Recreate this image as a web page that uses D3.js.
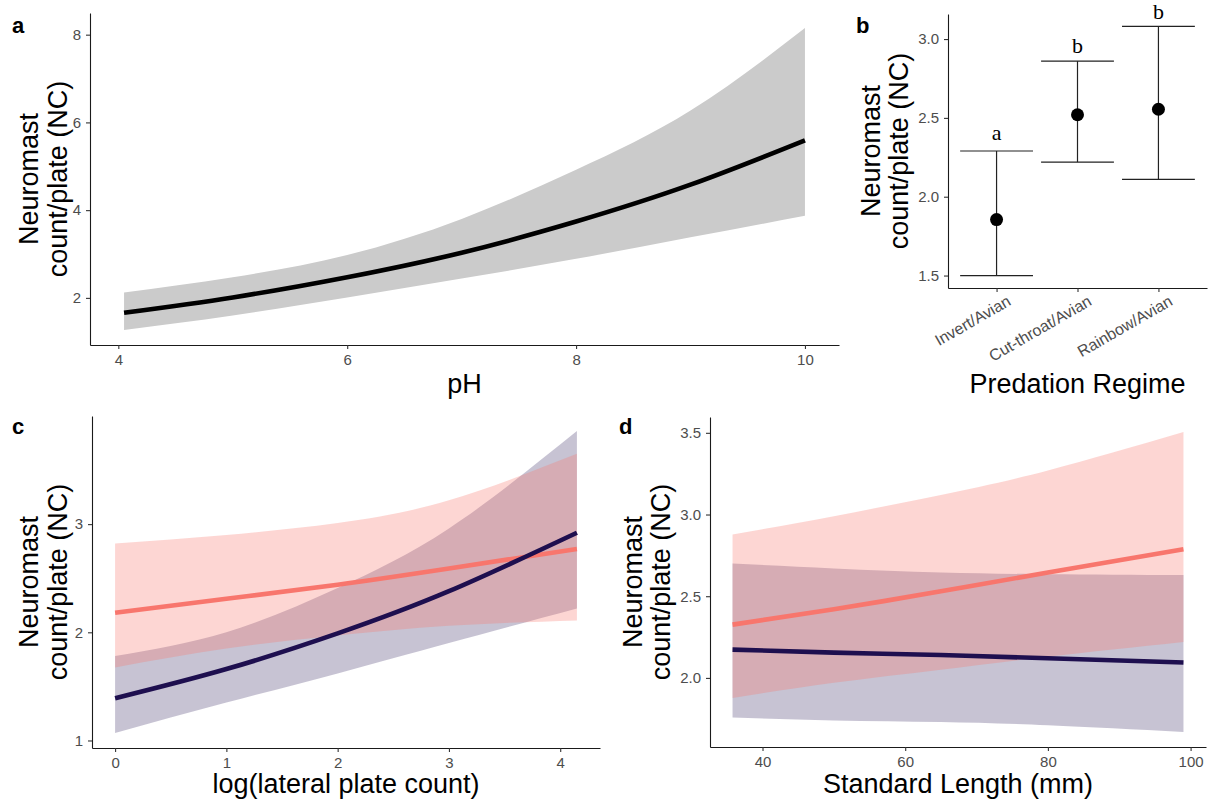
<!DOCTYPE html>
<html>
<head>
<meta charset="utf-8">
<script src="https://cdn.jsdelivr.net/npm/d3@7"></script>
<style>
  html, body { margin: 0; padding: 0; background: #fff; }
  svg { display: block; font-family: "Liberation Sans", Arial, sans-serif; }
</style>
</head>
<body>
<svg id="chart" width="1208" height="804"></svg>
<script>
// ---------------- DATA ----------------
// Panel a: NC vs pH
const aX      = [4.05, 5, 6, 7, 8, 9, 10];
const aFit    = [1.66, 2.01, 2.47, 3.03, 3.74, 4.58, 5.59];
const aUpper  = [2.12, 2.47, 2.98, 3.80, 4.92, 6.27, 8.15];
const aLower  = [1.27, 1.60, 2.01, 2.44, 2.89, 3.38, 3.87];
const aXTicks = [4, 6, 8, 10];
const aYTicks = [2, 4, 6, 8];

// Panel b: NC by predation regime
const bCategories = ["Invert/Avian", "Cut-throat/Avian", "Rainbow/Avian"];
const bMean    = [1.855, 2.52, 2.555];
const bLower   = [1.50, 2.22, 2.11];
const bUpper   = [2.29, 2.86, 3.08];
const bLetters = ["a", "b", "b"];
const bLetterY = [2.36, 2.91, 3.13];
const bYTicks  = [1.5, 2.0, 2.5, 3.0];

// Panel c: NC vs log(lateral plate count)
const cX           = [0, 1, 2, 3, 4.15];
const cOrangeFit   = [2.18, 2.31, 2.44, 2.59, 2.77];
const cOrangeUpper = [2.82, 2.90, 3.01, 3.22, 3.65];
const cOrangeLower = [1.675, 1.85, 1.97, 2.06, 2.11];
const cNavyFit     = [1.39, 1.66, 1.99, 2.38, 2.92];
const cNavyUpper   = [1.78, 2.00, 2.41, 2.96, 3.86];
const cNavyLower   = [1.07, 1.35, 1.62, 1.90, 2.22];
const cXTicks = [0, 1, 2, 3, 4];
const cYTicks = [1, 2, 3];

// Panel d: NC vs standard length
const dX           = [35.8, 50, 65, 80, 99];
const dOrangeFit   = [2.326, 2.42, 2.53, 2.645, 2.787];
const dOrangeUpper = [2.878, 2.99, 3.12, 3.27, 3.505];
const dOrangeLower = [1.877, 1.97, 2.05, 2.13, 2.22];
const dNavyFit     = [2.173, 2.155, 2.14, 2.12, 2.094];
const dNavyUpper   = [2.70, 2.67, 2.645, 2.635, 2.63];
const dNavyLower   = [1.757, 1.74, 1.73, 1.71, 1.669];
const dXTicks = [40, 60, 80, 100];
const dYTicks = [2.0, 2.5, 3.0, 3.5];

// ---------------- STYLE ----------------
const ORANGE = "#F8766D";
const NAVY = "#1E0F4F";
const GREY_BAND = "#CBCBCB";
const TICK_FS = 15;
const TITLE_FS = 27;

const svg = d3.select("#chart");

function expand(ext) {
  const r = ext[1] - ext[0];
  return [ext[0] - 0.05 * r, ext[1] + 0.05 * r];
}

function styleAxis(g) {
  g.select(".domain").attr("stroke", "#1a1a1a").attr("stroke-width", 1.1);
  g.selectAll(".tick line").attr("stroke", "#333").attr("stroke-width", 1.1);
  g.selectAll(".tick text").attr("fill", "#4d4d4d")
    .style("font-size", TICK_FS + "px")
    .style("font-family", "'Liberation Sans', Arial, sans-serif");
}

function drawAxes(box, x, y, xTicks, yTicks, xFmt, yFmt) {
  const gx = svg.append("g").attr("transform", `translate(0,${box.bottom})`)
    .call(d3.axisBottom(x).tickValues(xTicks).tickSize(4).tickSizeOuter(0)
      .tickPadding(5).tickFormat(xFmt));
  styleAxis(gx);
  const gy = svg.append("g").attr("transform", `translate(${box.left},0)`)
    .call(d3.axisLeft(y).tickValues(yTicks).tickSize(4).tickSizeOuter(0)
      .tickPadding(5).tickFormat(yFmt));
  styleAxis(gy);
  return [gx, gy];
}

function yTitle(box, off1, off2) {
  const cy = (box.top + box.bottom) / 2;
  [["Neuromast", off1], ["count/plate (NC)", off2]].forEach(([t, off]) => {
    svg.append("text")
      .attr("transform", `translate(${box.left - off},${cy}) rotate(-90)`)
      .attr("text-anchor", "middle")
      .style("font-size", TITLE_FS + "px")
      .attr("fill", "#000")
      .text(t);
  });
}

function xTitle(box, baseline, t) {
  svg.append("text")
    .attr("x", (box.left + box.right) / 2)
    .attr("y", baseline)
    .attr("text-anchor", "middle")
    .style("font-size", TITLE_FS + "px")
    .attr("fill", "#000")
    .text(t);
}

function panelLetter(x, y, t) {
  svg.append("text").attr("x", x).attr("y", y)
    .style("font-size", "22px").style("font-weight", "bold")
    .attr("fill", "#000").text(t);
}

const CURVE = d3.curveNatural;

function ribbon(x, y, xs, lo, hi, fill, opacity) {
  const data = xs.map((v, i) => ({ x: v, lo: lo[i], hi: hi[i] }));
  const area = d3.area()
    .x(d => x(d.x)).y0(d => y(d.lo)).y1(d => y(d.hi))
    .curve(CURVE);
  svg.append("path").datum(data).attr("d", area)
    .attr("fill", fill).attr("fill-opacity", opacity).attr("stroke", "none");
}

function fitLine(x, y, xs, ys, color, w) {
  const data = xs.map((v, i) => ({ x: v, y: ys[i] }));
  const line = d3.line().x(d => x(d.x)).y(d => y(d.y)).curve(CURVE);
  svg.append("path").datum(data).attr("d", line)
    .attr("fill", "none").attr("stroke", color).attr("stroke-width", w)
    .attr("stroke-linecap", "butt");
}

// ---------------- PANEL A ----------------
{
  const box = { left: 90, right: 839, top: 13, bottom: 345 };
  const x = d3.scaleLinear().domain(expand(d3.extent(aX))).range([box.left, box.right]);
  const y = d3.scaleLinear().domain(expand([d3.min(aLower), d3.max(aUpper)])).range([box.bottom, box.top]);
  ribbon(x, y, aX, aLower, aUpper, GREY_BAND, 1);
  fitLine(x, y, aX, aFit, "#000", 4.6);
  drawAxes(box, x, y, aXTicks, aYTicks, d3.format("d"), d3.format("d"));
  yTitle(box, 52, 23);
  xTitle(box, 393, "pH");
  panelLetter(12, 33, "a");
}

// ---------------- PANEL B ----------------
{
  const box = { left: 948, right: 1207, top: 14, bottom: 288 };
  const x = d3.scalePoint().domain(bCategories).range([box.left, box.right]).padding(0.6);
  const y = d3.scaleLinear().domain(expand([d3.min(bLower), d3.max(bUpper)])).range([box.bottom, box.top]);
  const capW = x.step() * 0.9;
  const g = svg.append("g");
  bCategories.forEach((c, i) => {
    const cx = x(c);
    g.append("line").attr("x1", cx).attr("x2", cx).attr("y1", y(bLower[i])).attr("y2", y(bUpper[i]))
      .attr("stroke", "#222").attr("stroke-width", 1.2);
    g.append("line").attr("x1", cx - capW / 2).attr("x2", cx + capW / 2)
      .attr("y1", y(bLower[i])).attr("y2", y(bLower[i]))
      .attr("stroke", "#222").attr("stroke-width", 1.2);
    g.append("line").attr("x1", cx - capW / 2).attr("x2", cx + capW / 2)
      .attr("y1", y(bUpper[i])).attr("y2", y(bUpper[i]))
      .attr("stroke", "#222").attr("stroke-width", 1.2);
    g.append("circle").attr("cx", cx).attr("cy", y(bMean[i])).attr("r", 6.5).attr("fill", "#000");
    g.append("text").attr("x", cx).attr("y", y(bLetterY[i]))
      .attr("text-anchor", "middle")
      .style("font-family", "'Liberation Serif', 'Times New Roman', serif")
      .style("font-size", "22px").attr("fill", "#000").text(bLetters[i]);
  });
  const gx = svg.append("g").attr("transform", `translate(0,${box.bottom})`)
    .call(d3.axisBottom(x).tickSize(4).tickSizeOuter(0).tickPadding(4));
  styleAxis(gx);
  gx.selectAll(".tick text")
    .style("font-size", "16px")
    .attr("text-anchor", "end")
    .attr("dy", "0.6em")
    .attr("transform", "translate(6,1) rotate(-30)");
  const gy = svg.append("g").attr("transform", `translate(${box.left},0)`)
    .call(d3.axisLeft(y).tickValues(bYTicks).tickSize(4).tickSizeOuter(0).tickPadding(5).tickFormat(d3.format(".1f")));
  styleAxis(gy);
  yTitle(box, 68, 40);
  xTitle(box, 393, "Predation Regime");
  panelLetter(856, 33, "b");
}

// ---------------- PANEL C ----------------
{
  const box = { left: 92, right: 600, top: 416, bottom: 748 };
  const x = d3.scaleLinear().domain(expand(d3.extent(cX))).range([box.left, box.right]);
  const allY = cOrangeLower.concat(cOrangeUpper, cNavyLower, cNavyUpper);
  const y = d3.scaleLinear().domain(expand(d3.extent(allY))).range([box.bottom, box.top]);
  ribbon(x, y, cX, cNavyLower, cNavyUpper, NAVY, 0.25);
  ribbon(x, y, cX, cOrangeLower, cOrangeUpper, ORANGE, 0.3);
  fitLine(x, y, cX, cOrangeFit, ORANGE, 4.6);
  fitLine(x, y, cX, cNavyFit, NAVY, 4.6);
  drawAxes(box, x, y, cXTicks, cYTicks, d3.format("d"), d3.format("d"));
  yTitle(box, 54, 25);
  xTitle(box, 793, "log(lateral plate count)");
  panelLetter(12, 434, "c");
}

// ---------------- PANEL D ----------------
{
  const box = { left: 710, right: 1206, top: 417, bottom: 747 };
  const x = d3.scaleLinear().domain(expand(d3.extent(dX))).range([box.left, box.right]);
  const allY = dOrangeLower.concat(dOrangeUpper, dNavyLower, dNavyUpper);
  const y = d3.scaleLinear().domain(expand(d3.extent(allY))).range([box.bottom, box.top]);
  ribbon(x, y, dX, dNavyLower, dNavyUpper, NAVY, 0.25);
  ribbon(x, y, dX, dOrangeLower, dOrangeUpper, ORANGE, 0.3);
  fitLine(x, y, dX, dOrangeFit, ORANGE, 4.6);
  fitLine(x, y, dX, dNavyFit, NAVY, 4.6);
  drawAxes(box, x, y, dXTicks, dYTicks, d3.format("d"), d3.format(".1f"));
  yTitle(box, 68, 40);
  xTitle(box, 793, "Standard Length (mm)");
  panelLetter(619, 434, "d");
}
</script>
</body>
</html>
